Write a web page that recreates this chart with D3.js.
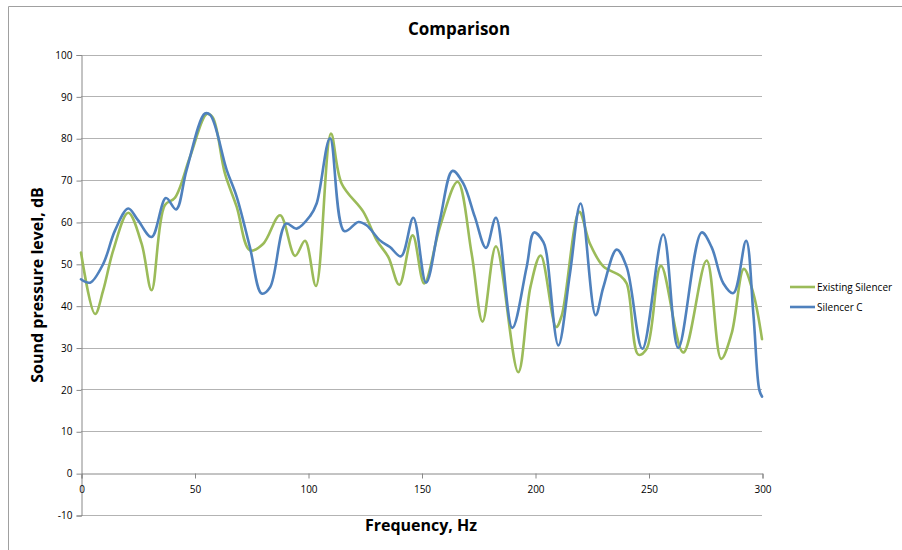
<!DOCTYPE html>
<html>
<head>
<meta charset="utf-8">
<script src="https://cdn.jsdelivr.net/npm/d3@7/dist/d3.min.js"></script>
<style>
  html, body { margin: 0; padding: 0; background: #fff; }
  svg { display: block; }
  text { font-family: "Open Sans", "Noto Sans", sans-serif; fill: #000; }
</style>
</head>
<body>
<svg id="chart" width="902" height="550"></svg>
<script>
const chartTitle = "Comparison";
const xTitle = "Frequency, Hz";
const yTitle = "Sound pressure level, dB";
const seriesNames = ["Existing Silencer", "Silencer C"];
const xTicks = [0, 50, 100, 150, 200, 250, 300];
const yTicks = [-10, 0, 10, 20, 30, 40, 50, 60, 70, 80, 90, 100];

const existingFreq = [0, 6.2, 9.8, 14.2, 20.8, 26.7, 31.1, 36.9, 41.4, 48, 55.4, 58, 63.4, 68.6, 74.4, 80.3, 87.7, 94.3, 98.7, 103.5, 110.1, 114.8, 124.4, 130.3, 135.4, 140.2, 146.1, 151.2, 158.1, 165.9, 172.1, 176.9, 182.8, 192.6, 198, 202.5, 209.3, 211.8, 219.5, 224.2, 230.1, 237.4, 240.4, 245.5, 249.2, 255.5, 265.3, 275.6, 282, 286.6, 292, 296.2, 300];
const existingSPL = [52.7, 38, 43.7, 53.2, 62.2, 54.8, 43.7, 64, 65.8, 75.5, 85.8, 85, 71.6, 63.6, 53.2, 54.8, 61.6, 51.9, 55.5, 44.7, 81.1, 69.2, 62.4, 55.6, 51.6, 45, 56.8, 45.3, 58.8, 69.6, 52.4, 36.2, 54.2, 24.1, 44.5, 52, 34.9, 37.7, 62.4, 54.8, 49.4, 47.2, 45.3, 28.3, 29.7, 49.5, 28.8, 50.8, 27.3, 33.3, 48.8, 42.9, 32];

const silencerCFreq = [0, 4, 9.8, 15, 20.8, 25, 31.1, 37.4, 41.9, 46.5, 54.6, 57, 64.2, 68.6, 74.4, 79.6, 83.3, 90.3, 95, 100.9, 103.8, 109.7, 116, 122.2, 125.8, 131.7, 136.1, 141, 146.4, 152, 158.1, 163.7, 168.4, 173.5, 178.4, 182.8, 190, 196.3, 199.6, 203.7, 205.1, 210.3, 215.4, 220.1, 226.7, 230.1, 236, 240.4, 247.3, 256.5, 263.1, 273.4, 277.8, 283, 287.4, 293, 296.2, 298.8, 300];
const silencerCSPL = [46.3, 45.5, 50, 58, 63.2, 60.5, 56.4, 65.7, 63, 72.4, 85.9, 85.5, 72.4, 66, 54, 42.9, 44.4, 59.6, 58.4, 61.4, 64.4, 80, 57.8, 60, 59.2, 55.6, 54, 51.8, 61, 45.5, 60.4, 72.2, 69.2, 61.2, 53.8, 61, 34.7, 49.2, 57.5, 55.2, 52.4, 30.5, 47.7, 64.4, 37.7, 44.4, 53.4, 49.2, 29.7, 57, 29.9, 57.5, 54, 45.3, 43, 55.5, 38, 19.9, 18.3];

const colors = ["#9bbb59", "#4f81bd"];

const svg = d3.select("#chart");
const plot = { left: 81, right: 762, top: 54.5, bottom: 515 };

const x = d3.scaleLinear().domain([0, 300]).range([plot.left, plot.right]);
const y = d3.scaleLinear().domain([-10, 100]).range([plot.bottom, plot.top]);

// outer frame (top and left edges visible)
svg.append("line").attr("x1", 8.5).attr("x2", 902).attr("y1", 6.5).attr("y2", 6.5)
  .attr("stroke", "#a0a0a0").attr("stroke-width", 1);
svg.append("line").attr("x1", 8.5).attr("x2", 8.5).attr("y1", 6.5).attr("y2", 550)
  .attr("stroke", "#a0a0a0").attr("stroke-width", 1);

// gridlines
svg.append("g").selectAll("line").data(yTicks.filter(d => d !== 0)).join("line")
  .attr("x1", plot.left).attr("x2", plot.right)
  .attr("y1", d => Math.round(y(d)) + 0.5).attr("y2", d => Math.round(y(d)) + 0.5)
  .attr("stroke", "#b3b3b3").attr("stroke-width", 1);

// y axis
const yAxis = d3.axisLeft(y).tickValues(yTicks).tickSize(5).tickPadding(4)
  .tickFormat(d => String(d));
const gy = svg.append("g").attr("transform", `translate(${plot.left + 0.5},0.5)`).call(yAxis);
gy.select(".domain").attr("stroke", "#888");
gy.selectAll(".tick line").attr("stroke", "#888");
gy.selectAll(".tick text").style("font-size", "10px").attr("fill", "#000")
  .style("font-family", "'Open Sans', sans-serif");

// x axis at y=0
const xAxis = d3.axisBottom(x).tickValues(xTicks).tickSize(5).tickPadding(7)
  .tickFormat(d => String(d));
const gx = svg.append("g").attr("transform", `translate(0.5,${Math.round(y(0)) + 0.5})`).call(xAxis);
gx.select(".domain").attr("stroke", "#888");
gx.selectAll(".tick line").attr("stroke", "#888");
gx.selectAll(".tick text").style("font-size", "10px").attr("fill", "#000")
  .style("font-family", "'Open Sans', sans-serif");

// lines
const series = [
  { name: seriesNames[0], f: existingFreq, v: existingSPL, color: colors[0] },
  { name: seriesNames[1], f: silencerCFreq, v: silencerCSPL, color: colors[1] }
];
const line = d3.line()
  .x(d => x(d[0])).y(d => y(d[1]))
  .curve(d3.curveCatmullRom.alpha(0.5));

series.forEach(s => {
  const pts = s.f.map((f, i) => [f, s.v[i]]);
  svg.append("path").datum(pts)
    .attr("fill", "none").attr("stroke", s.color).attr("stroke-width", 2.6)
    .attr("stroke-linejoin", "round").attr("stroke-linecap", "round")
    .attr("d", line);
});

// title
svg.append("text").attr("x", 459).attr("y", 35).attr("text-anchor", "middle")
  .style("font-size", "17px").style("font-weight", "bold").text(chartTitle);

// axis titles
svg.append("text").attr("x", 421).attr("y", 531).attr("text-anchor", "middle")
  .style("font-size", "16px").style("font-weight", "bold").text(xTitle);
svg.append("text").attr("transform", "translate(43,285) rotate(-90)").attr("text-anchor", "middle")
  .style("font-size", "16px").style("font-weight", "bold").text(yTitle);

// legend
const legend = svg.append("g");
series.forEach((s, i) => {
  const ly = 287 + i * 20;
  legend.append("line").attr("x1", 790).attr("x2", 815).attr("y1", ly).attr("y2", ly)
    .attr("stroke", s.color).attr("stroke-width", 2.6);
  legend.append("text").attr("x", 817).attr("y", ly + 3.5)
    .style("font-size", "10px").text(s.name);
});
</script>
</body>
</html>
